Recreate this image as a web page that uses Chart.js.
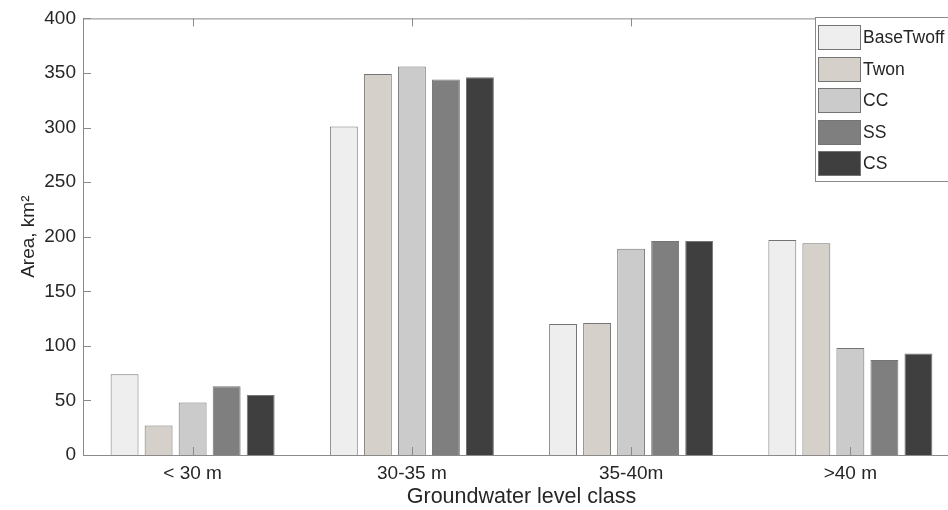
<!DOCTYPE html>
<html>
<head>
<meta charset="utf-8">
<script src="https://cdn.jsdelivr.net/npm/chart.js@4"></script>
<style>
    html, body { margin: 0; padding: 0; background: #ffffff; overflow: hidden; }
    #Wrap { width: 948px; height: 510px; overflow: hidden; }
</style>
</head>
<body>
<div id="Wrap"><canvas id="ChartCanvas" width="960" height="510"></canvas></div>
<script>
// Chart data
const categories = ['< 30 m', '30-35 m', '35-40m', '>40 m'];
const seriesNames = ['BaseTwoff', 'Twon', 'CC', 'SS', 'CS'];
const baseTwoff = [74, 301, 120, 197];
const twon      = [27, 349, 121, 194];
const cc        = [48, 356, 189, 98];
const ss        = [63, 344, 196, 87];
const cs        = [55, 346, 196, 93];
const yTicks    = [0, 50, 100, 150, 200, 250, 300, 350, 400];

const seriesValues = [baseTwoff, twon, cc, ss, cs];
const seriesColors = ['#eeeeee', '#d5d0c9', '#cbcbcb', '#7f7f7f', '#3f3f3f'];

const axisColor = '#8a8a8a';
const textColor = '#262626';
const fontFamily = '"Liberation Sans", Arial, Helvetica, sans-serif';

// Draws the top frame line and the inward tick marks like a MATLAB axes box
const BoxAndTicks =
{
    id: 'boxAndTicks',
    afterDatasetsDraw(chart)
    {
        const { ctx, chartArea, scales } = chart;
        const tickLen = 8;

        ctx.save();
        ctx.strokeStyle = axisColor;
        ctx.lineWidth = 1;
        ctx.beginPath();

        // top frame line
        ctx.moveTo(chartArea.left, chartArea.top + 0.5);
        ctx.lineTo(chartArea.right, chartArea.top + 0.5);

        // y ticks pointing into the plot
        scales.y.ticks.forEach(t =>
        {
            const py = Math.round(scales.y.getPixelForValue(t.value)) + 0.5;
            ctx.moveTo(chartArea.left, py);
            ctx.lineTo(chartArea.left + tickLen, py);
        });

        // x ticks at top and bottom, pointing into the plot
        categories.forEach((c, i) =>
        {
            const px = Math.round(scales.x.getPixelForValue(i)) + 0.5;
            ctx.moveTo(px, chartArea.top);
            ctx.lineTo(px, chartArea.top + tickLen);
            ctx.moveTo(px, chartArea.bottom);
            ctx.lineTo(px, chartArea.bottom - tickLen);
        });

        ctx.stroke();
        ctx.restore();
    }
};

// Legend box in the upper right corner, cut by the right edge like the original
const BoxLegend =
{
    id: 'boxLegend',
    afterDraw(chart)
    {
        const ctx = chart.ctx;
        const boxX = 815, boxY = 17, boxW = 200, boxH = 164;
        const swX = 818, swW = 42, swH = 24, firstTop = 25, pitch = 31.6;

        ctx.save();
        ctx.fillStyle = '#ffffff';
        ctx.fillRect(boxX, boxY, boxW, boxH);
        ctx.strokeStyle = axisColor;
        ctx.lineWidth = 1;
        ctx.strokeRect(boxX + 0.5, boxY + 0.5, boxW, boxH);

        ctx.font = '17.5px ' + fontFamily;
        ctx.textBaseline = 'middle';
        ctx.textAlign = 'left';

        chart.data.datasets.forEach((ds, i) =>
        {
            const top = Math.round(firstTop + i * pitch);
            ctx.fillStyle = ds.backgroundColor;
            ctx.fillRect(swX, top, swW, swH);
            ctx.strokeStyle = ds.borderColor;
            ctx.strokeRect(swX + 0.5, top + 0.5, swW, swH);
            ctx.fillStyle = textColor;
            ctx.fillText(ds.label, swX + swW + 3, top + swH / 2 + 1);
        });
        ctx.restore();
    }
};

Initialize();

function Initialize()
{
    const ctx = document.getElementById('ChartCanvas').getContext('2d');

    const datasets = seriesNames.map((name, i) => (
    {
        label: name,
        data: seriesValues[i],
        backgroundColor: seriesColors[i],
        borderColor: '#747474',
        borderWidth: 1,
        categoryPercentage: 0.776,
        barPercentage: 0.82
    }));

    new Chart(ctx,
    {
        type: 'bar',
        data: { labels: categories, datasets: datasets },
        options:
        {
            responsive: false,
            devicePixelRatio: 1,
            animation: false,
            layout: { padding: { top: 15, right: 0, left: 0, bottom: 0 } },
            plugins:
            {
                legend: { display: false },
                tooltip: { enabled: false }
            },
            scales:
            {
                x:
                {
                    grid: { display: false, drawTicks: false },
                    border: { display: true, color: axisColor, width: 1 },
                    ticks: { color: textColor, font: { family: fontFamily, size: 19 }, padding: 7 },
                    title:
                    {
                        display: true,
                        text: 'Groundwater level class',
                        color: textColor,
                        font: { family: fontFamily, size: 21.5 },
                        padding: { top: 0, bottom: 0 }
                    },
                    afterFit: scale => { scale.height = 55; }
                },
                y:
                {
                    min: 0,
                    max: 400,
                    afterBuildTicks: scale => { scale.ticks = yTicks.map(v => ({ value: v })); },
                    grid: { display: false, drawTicks: false },
                    border: { display: true, color: axisColor, width: 1 },
                    ticks: { color: textColor, font: { family: fontFamily, size: 19 }, padding: 7 },
                    title:
                    {
                        display: true,
                        text: 'Area, km²',
                        color: textColor,
                        font: { family: fontFamily, size: 19 },
                        padding: { top: 17, bottom: 0 }
                    },
                    afterFit: scale => { scale.width = 83; }
                }
            }
        },
        plugins: [BoxAndTicks, BoxLegend]
    });
}
</script>
</body>
</html>
